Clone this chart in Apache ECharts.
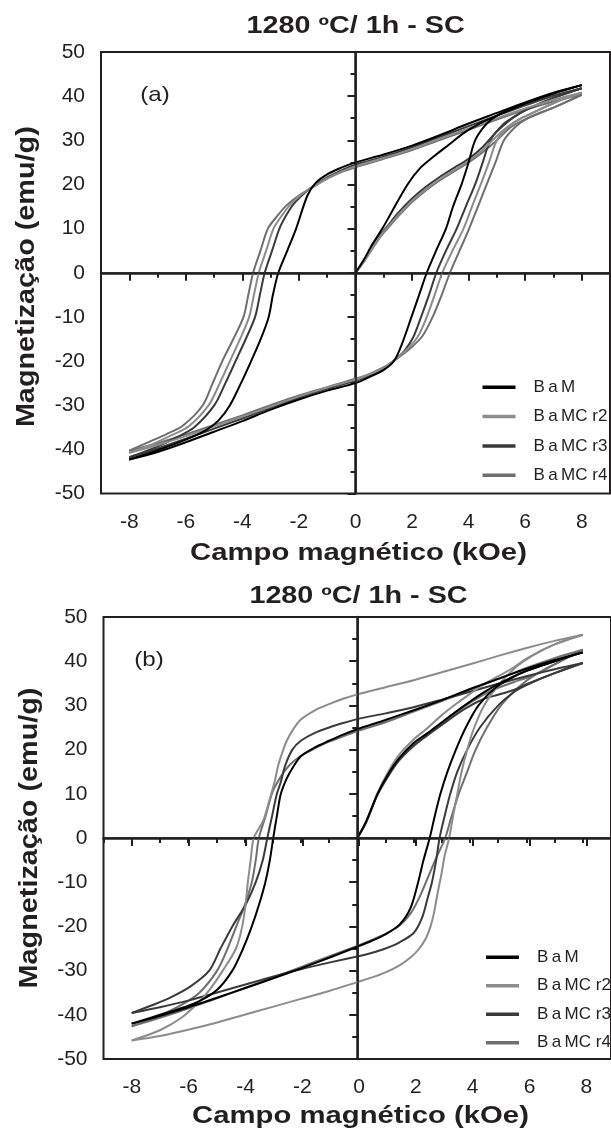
<!doctype html>
<html>
<head>
<meta charset="utf-8">
<title>1280 ºC/ 1h - SC</title>
<script src="https://cdn.jsdelivr.net/npm/echarts@6/dist/echarts.min.js"></script>
<style>
  html, body { margin: 0; padding: 0; background: #fff; }
  #main { width: 611px; height: 1134px; }
</style>
</head>
<body>
<div id="main"></div>
<script>
// sample names, as drawn in the legends
var sampleNames = ['BaM', 'BaMC r2', 'BaMC r3', 'BaMC r4'];
var legendLabels = ['B\u2009a\u2009M', 'B\u2009a\u2009MC r2', 'B\u2009a\u2009MC r3', 'B\u2009a\u2009MC r4'];
var sampleColors = ['#000000', '#8c8c8c', '#3a3a3a', '#6f6f6f'];

// axis ticks
var fieldTicks = [-8, -6, -4, -2, 0, 2, 4, 6, 8];
var magTicks = [-50, -40, -30, -20, -10, 0, 10, 20, 30, 40, 50];

// ---- panel (a) : [H (kOe), M (emu/g)] ----
var aBaMVirgin = [[0,0],[0.3,3],[0.6,6.5],[0.95,10],[1.3,14],[1.84,20],[2.3,23.8],[2.8,26.5],[3.3,29],[3.8,31.5],[4.3,33.5],[5,35.6],[6,38.4],[7,40.6],[8,42.5]];
var aBaMDown = [[8,42.5],[7,40.8],[6,38.6],[5,36.2],[4,33.8],[3,31.2],[2,28.8],[1,26.8],[0,25],[-0.5,23.8],[-1,22.3],[-1.4,20.4],[-1.7,17.5],[-2.1,10],[-2.4,5.2],[-2.73,0],[-2.92,-5],[-3.07,-10],[-3.35,-15],[-3.69,-20],[-4.05,-25],[-4.44,-30],[-4.85,-33.5],[-5.3,-35.7],[-6,-37.8],[-7,-40.2],[-8,-42.3]];
var aBaMUp = [[-8,-42.3],[-7,-40.6],[-6,-38.4],[-5,-36],[-4,-33.6],[-3,-31],[-2,-28.7],[-1,-26.7],[0,-25],[0.5,-23.6],[1,-22],[1.36,-20],[1.65,-16],[1.98,-10],[2.25,-5],[2.52,0],[2.85,5],[3.2,10],[3.45,15],[3.75,20],[4.0,25],[4.23,30],[4.6,33.5],[5,35.6],[6,38.3],[7,40.6],[8,42.5]];

var aR2Virgin = [[0,0],[0.3,2.6],[0.6,5.7],[0.9,8.5],[1.2,10.8],[1.5,13],[2,16.3],[2.5,19],[3,21.3],[3.5,23.3],[4,25.3],[4.5,27.8],[5,31],[5.5,33.6],[6,35.4],[7,38.4],[8,40.8]];
var aR2Down = [[8,40.8],[7,39.2],[6,37.2],[5,35],[4,32.7],[3,30.4],[2,28],[1,26],[0,24.1],[-0.5,22.9],[-1,21.4],[-1.5,19.5],[-1.9,17.8],[-2.3,15.5],[-2.6,13],[-2.9,10],[-3.16,5],[-3.42,0],[-3.59,-5],[-3.76,-10],[-4.08,-15],[-4.44,-20],[-4.8,-25],[-5.19,-30],[-5.9,-34.8],[-6.5,-36.8],[-7.2,-38.9],[-8,-40.8]];
var aR2Up = [[-8,-40.8],[-7,-39],[-6,-37],[-5,-34.8],[-4,-32.6],[-3,-30.3],[-2,-28],[-1,-26],[0,-24.2],[0.5,-23],[1,-21.6],[1.4,-19.7],[1.8,-17.5],[2.2,-14.5],[2.52,-10],[2.8,-5],[3.07,0],[3.43,5],[3.82,10],[4.12,15],[4.43,20],[4.72,25],[5.0,30],[5.4,33],[5.8,34.8],[6.2,36],[7,38.4],[8,40.8]];

var aR3Virgin = [[0,0],[0.3,2.8],[0.6,6],[0.9,8.8],[1.16,10.8],[1.5,13.5],[2,16.8],[2.5,19.5],[3,21.8],[3.5,23.8],[4,25.8],[4.5,28.5],[5,32],[5.5,34.8],[6,36.8],[7,39.6],[8,41.8]];
var aR3Down = [[8,41.8],[7,40.1],[6,37.9],[5,35.6],[4,33.2],[3,30.8],[2,28.4],[1,26.3],[0,24.5],[-0.5,23.2],[-1,21.6],[-1.5,19.6],[-1.85,17.8],[-2.2,15.5],[-2.45,13],[-2.69,10],[-2.95,5],[-3.21,0],[-3.38,-5],[-3.55,-10],[-3.88,-15],[-4.24,-20],[-4.6,-25],[-4.99,-30],[-5.7,-35],[-6.3,-37.2],[-7.1,-39.6],[-8,-41.8]];
var aR3Up = [[-8,-41.8],[-7,-39.8],[-6,-37.6],[-5,-35.3],[-4,-33],[-3,-30.6],[-2,-28.3],[-1,-26.3],[0,-24.5],[0.5,-23.3],[1,-21.7],[1.4,-19.7],[1.75,-17.5],[2.05,-14.5],[2.32,-10],[2.6,-5],[2.86,0],[3.2,5],[3.58,10],[3.9,15],[4.23,20],[4.5,25],[4.77,30],[5.2,33.5],[5.6,35.3],[6,36.8],[7,39.6],[8,41.8]];

var aR4Virgin = [[0,0],[0.3,2.5],[0.6,5.5],[0.9,8.3],[1.2,10.5],[1.5,12.7],[2,16],[2.5,18.7],[3,21],[3.5,23],[4,25],[4.5,27.3],[5,30],[5.5,33],[6,34.7],[7,37.4],[8,40.3]];
var aR4Down = [[8,40.3],[7,38.8],[6,36.9],[5,34.7],[4,32.4],[3,30.1],[2,27.8],[1,25.8],[0,23.9],[-0.5,22.8],[-1,21.3],[-1.5,19.4],[-2,17.5],[-2.45,15.2],[-2.8,12.6],[-3.1,10],[-3.36,5],[-3.62,0],[-3.79,-5],[-3.96,-10],[-4.32,-15],[-4.71,-20],[-5.05,-25],[-5.4,-30],[-6.1,-34.6],[-6.7,-36.6],[-7.3,-38.3],[-8,-40.3]];
var aR4Up = [[-8,-40.3],[-7,-38.6],[-6,-36.6],[-5,-34.5],[-4,-32.3],[-3,-30],[-2,-27.8],[-1,-25.9],[0,-24],[0.5,-22.9],[1,-21.4],[1.45,-19.5],[1.9,-17.3],[2.35,-14.5],[2.73,-10],[3.05,-5],[3.34,0],[3.68,5],[4.02,10],[4.33,15],[4.64,20],[4.95,25],[5.25,30],[5.65,33],[6,34.7],[6.5,36.2],[7,37.4],[8,40.3]];

// ---- panel (b) ----
var bBaMVirgin = [[0,0],[0.3,3.5],[0.72,10],[1.1,14.5],[1.48,18],[2,21.5],[2.44,23.5],[3,26.2],[3.81,30],[4.5,33],[5.2,35.5],[6,37.8],[7,40],[8,42]];
var bBaMDown = [[8,42],[7,40.3],[6,38.3],[5,36],[4,33.7],[3,31.2],[2,28.9],[1,26.7],[0,24.6],[-0.5,23.4],[-1,22],[-1.5,20.5],[-2,18.5],[-2.3,15.8],[-2.5,13.5],[-2.71,10],[-2.85,5],[-2.98,0],[-3.1,-5],[-3.26,-10],[-3.48,-15],[-3.74,-20],[-4.05,-25],[-4.43,-30],[-5.0,-34.5],[-5.8,-37.5],[-6.8,-39.6],[-8,-42]];
var bBaMUp = [[-8,-42],[-7,-40.3],[-6,-38.3],[-5,-36.2],[-4,-34],[-3,-31.8],[-2,-29.5],[-1,-27.1],[0,-24.6],[0.5,-23.3],[1,-21.8],[1.5,-19.6],[1.88,-16],[2.16,-10],[2.35,-5],[2.57,0],[2.75,5],[2.95,10],[3.2,15],[3.5,20],[3.85,25],[4.3,30],[4.9,34],[5.5,36.3],[6,37.8],[7,40],[8,42]];

var bR2Virgin = [[0,0],[0.3,3.5],[0.72,10.2],[1.1,15],[1.48,18.8],[2,22.3],[2.44,24.6],[3,27.8],[3.5,30.3],[4,32.6],[4.5,34.8],[5,36.6],[5.5,38.4],[6,40.6],[7,43.8],[8,46]];
var bR2Down = [[8,46],[7,44.6],[6,43],[5,41.2],[4,39.3],[3,37.5],[2,35.7],[1,34.1],[0,32.5],[-0.5,31.5],[-1,30.3],[-1.5,28.9],[-2,26.8],[-2.3,24.3],[-2.5,22],[-2.65,19.5],[-2.8,16.5],[-2.92,13],[-3.05,10],[-3.33,4],[-3.67,0],[-3.78,-5],[-3.88,-10],[-3.96,-15],[-4.08,-20],[-4.3,-25],[-4.77,-30],[-5.2,-34],[-5.6,-37],[-6.2,-40.5],[-7,-43.5],[-8,-45.8]];
var bR2Up = [[-8,-45.8],[-7,-44.8],[-6,-43.4],[-5,-41.8],[-4,-40],[-3,-38.2],[-2,-36.4],[-1,-34.6],[0,-32.6],[0.5,-31.6],[1,-30.4],[1.5,-28.8],[1.9,-27],[2.2,-25],[2.45,-22.5],[2.6,-20],[2.72,-17],[2.85,-12.5],[2.99,-8],[3.1,-4],[3.26,0],[3.4,5],[3.55,10],[3.7,15],[3.9,20],[4.15,25],[4.5,30],[5,34.5],[5.6,38.5],[6.2,41.2],[7,43.8],[8,46]];

var bR3Virgin = [[0,0],[0.3,3.3],[0.72,9.8],[1.1,14],[1.48,17.5],[2,20.8],[2.44,23],[3,25.6],[3.81,29.2],[4.5,31.5],[5,32.4],[5.6,33.6],[6,34.8],[7,37.3],[8,39.6]];
var bR3Down = [[8,39.6],[7,38.2],[6,36.6],[5,34.9],[4,33.1],[3,31.3],[2,29.6],[1,28.2],[0,26.9],[-0.5,26],[-1,25],[-1.5,23.8],[-2,22],[-2.3,20],[-2.55,16.5],[-2.72,12.5],[-2.85,10],[-3.02,5],[-3.19,0],[-3.35,-5],[-3.6,-10],[-3.95,-15],[-4.43,-20],[-4.85,-25],[-5.25,-30],[-5.9,-33.5],[-6.6,-36],[-7.3,-37.9],[-8,-39.6]];
var bR3Up = [[-8,-39.6],[-7,-38.3],[-6,-36.8],[-5,-35],[-4,-33.2],[-3,-31.4],[-2,-29.7],[-1,-28.2],[0,-26.8],[0.5,-26],[1,-25],[1.5,-23.6],[2,-21.5],[2.3,-18],[2.5,-13.5],[2.65,-10],[2.8,-5],[2.92,0],[3.1,5],[3.3,10],[3.55,15],[3.9,20],[4.35,25],[5,30],[5.6,33.2],[6,34.6],[7,37.3],[8,39.6]];

var bR4Virgin = [[0,0],[0.3,3.4],[0.72,9.9],[1.1,14.3],[1.48,17.8],[2,21.2],[2.44,23.3],[3,26],[3.81,29.8],[4.5,32.5],[5,34],[5.7,35.6],[6.3,36.9],[7,39.3],[8,42.6]];
var bR4Down = [[8,42.6],[7,40.7],[6,38.5],[5,36],[4,33.5],[3,31],[2,28.6],[1,26.2],[0,24.2],[-0.5,23],[-1,21.8],[-1.5,20.3],[-2,18.6],[-2.4,16.5],[-2.7,14],[-3,10.5],[-3.25,5],[-3.49,0],[-3.6,-5],[-3.74,-10],[-3.98,-15],[-4.29,-20],[-4.6,-25],[-4.97,-30],[-5.6,-35],[-6.3,-38],[-7.1,-40.4],[-8,-42.6]];
var bR4Up = [[-8,-42.6],[-7,-40.7],[-6,-38.6],[-5,-36.3],[-4,-34],[-3,-31.6],[-2,-29.2],[-1,-26.8],[0,-24.4],[0.5,-23.1],[1,-21.7],[1.5,-19.8],[1.9,-17],[2.2,-13.5],[2.5,-9],[2.8,-4.5],[3.12,0],[3.35,5],[3.6,10],[3.9,15],[4.2,20],[4.6,25],[5.1,30],[5.7,34],[6.3,36.9],[7,39.3],[8,42.6]];

var chart = echarts.init(document.getElementById('main'));

var ink = '#231f20';
var tickFont = { fontFamily: '"Liberation Sans", Arial, sans-serif', fontSize: 21, color: ink };

var series = [];
function zeroLines(axis) {
  series.push({
    type: 'line', data: [], xAxisIndex: axis, yAxisIndex: axis, silent: true,
    markLine: {
      silent: true, symbol: 'none', animation: false, label: { show: false },
      lineStyle: { color: ink, width: 1.5, type: 'solid' },
      data: [{ xAxis: 0 }, { yAxis: 0 }]
    }
  });
}
function addLoop(i, branches, axis) {
  branches.forEach(function (d) {
    series.push({
      type: 'line', name: sampleNames[i], data: d,
      xAxisIndex: axis, yAxisIndex: axis,
      color: sampleColors[i],
      showSymbol: false, symbol: 'none',
      smooth: 0.3,
      lineStyle: { color: sampleColors[i], width: 2 },
      animation: false
    });
  });
}
zeroLines(0);
addLoop(3, [aR4Virgin, aR4Down, aR4Up], 0);
addLoop(2, [aR3Virgin, aR3Down, aR3Up], 0);
addLoop(1, [aR2Virgin, aR2Down, aR2Up], 0);
addLoop(0, [aBaMVirgin, aBaMDown, aBaMUp], 0);
zeroLines(2);
addLoop(3, [bR4Virgin, bR4Down, bR4Up], 2);
addLoop(2, [bR3Virgin, bR3Down, bR3Up], 2);
addLoop(1, [bR2Virgin, bR2Down, bR2Up], 2);
addLoop(0, [bBaMVirgin, bBaMDown, bBaMUp], 2);

function mainX(grid) {
  return {
    gridIndex: grid, type: 'value', min: -9, max: 9, interval: 1,
    axisLine: { lineStyle: { color: ink, width: 2.5 } },
    axisTick: { length: 5, lineStyle: { color: ink, width: 2 } },
    axisLabel: { show: false }, splitLine: { show: false }
  };
}
function labelX(grid) {
  return {
    gridIndex: grid, type: 'value', min: fieldTicks[0], max: fieldTicks[fieldTicks.length - 1], interval: 2,
    axisLine: { show: false },
    axisTick: { length: 8, lineStyle: { color: ink, width: 2 } },
    axisLabel: Object.assign({ margin: 18 }, tickFont),
    splitLine: { show: false }
  };
}
function mainY(grid) {
  return {
    gridIndex: grid, type: 'value', min: magTicks[0], max: magTicks[magTicks.length - 1], interval: 10,
    axisLine: { lineStyle: { color: ink, width: 2.5 } },
    axisTick: { length: 8, lineStyle: { color: ink, width: 2 } },
    minorTick: { show: true, splitNumber: 2, length: 5, lineStyle: { color: ink, width: 2 } },
    axisLabel: Object.assign({ margin: 16 }, tickFont),
    splitLine: { show: false }
  };
}
function hiddenY(grid) {
  return { gridIndex: grid, type: 'value', min: -50, max: 50, show: false };
}

function legendFor(left, top, gap) {
  return {
    left: left, top: top, orient: 'vertical', padding: 0, itemGap: gap,
    icon: 'rect', itemWidth: 33, itemHeight: 3.5,
    data: sampleNames,
    formatter: function (n) { return legendLabels[sampleNames.indexOf(n)]; },
    textStyle: { fontFamily: '"Liberation Sans", Arial, sans-serif', fontSize: 17, lineHeight: 20, color: ink, padding: [0, 0, 0, 13] }
  };
}

function txt(s, x, y, size, bold, sx, sy, rot) {
  return {
    type: 'text', x: x, y: y, scaleX: sx, scaleY: sy || 1, rotation: rot || 0, silent: true,
    style: {
      text: s, x: 0, y: 0, fill: ink, align: 'center', verticalAlign: 'middle',
      fontFamily: '"Liberation Sans", Arial, sans-serif', fontSize: size, fontWeight: bold ? 'bold' : 'normal'
    }
  };
}

chart.setOption({
  backgroundColor: '#fff',
  animation: false,
  grid: [
    { left: 101, top: 52, width: 509, height: 441.5, show: true, borderColor: ink, borderWidth: 2, backgroundColor: 'transparent' },
    { left: 101 + 509 / 18, top: 52, width: 509 * 16 / 18, height: 441.5 },
    { left: 103.5, top: 617, width: 511.2, height: 442, show: true, borderColor: ink, borderWidth: 2, backgroundColor: 'transparent' },
    { left: 103.5 + 511.2 / 18, top: 617, width: 511.2 * 16 / 18, height: 442 }
  ],
  xAxis: [mainX(0), labelX(1), mainX(2), labelX(3)],
  yAxis: [mainY(0), hiddenY(1), mainY(2), hiddenY(3)],
  legend: [legendFor(482.5, 377.3, 9.3), legendFor(486, 947.3, 8.5)],
  graphic: [
    txt('1280 ºC/ 1h - SC', 355.6, 27, 23, true, 1.25),
    txt('Campo magnético (kOe)', 358.5, 553, 24, true, 1.22),
    txt('Magnetização (emu/g)', 27.5, 276.7, 24, true, 1.2, 1.05, Math.PI / 2),
    txt('(a)', 155, 95, 21, false, 1.15),
    txt('1280 ºC/ 1h - SC', 358.5, 597, 23, true, 1.25),
    txt('Campo magnético (kOe)', 360.5, 1116.7, 24, true, 1.22),
    txt('Magnetização (emu/g)', 30, 838, 24, true, 1.2, 1.05, Math.PI / 2),
    txt('(b)', 149, 660, 21, false, 1.15)
  ],
  series: series
});
</script>
</body>
</html>
